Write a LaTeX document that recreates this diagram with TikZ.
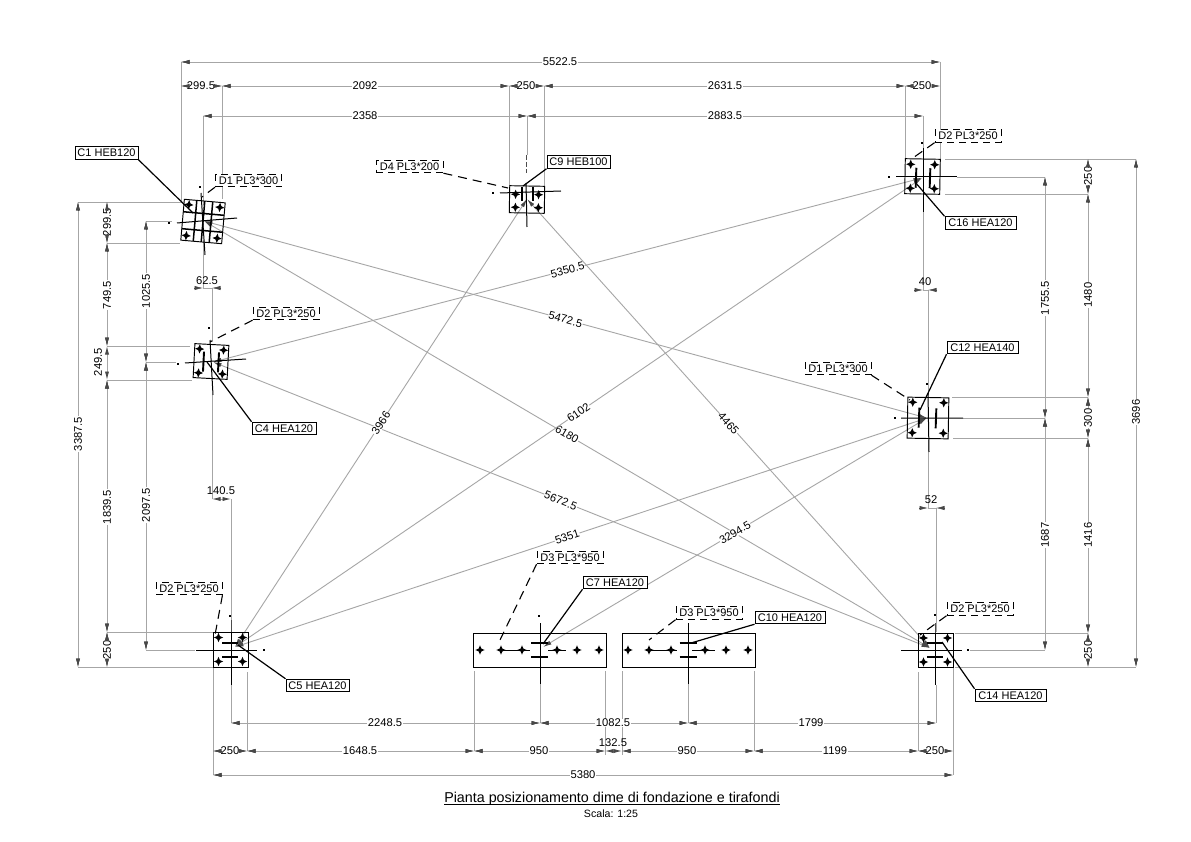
\documentclass[tikz,border=0pt]{standalone}
\usepackage{fontspec}
\setmainfont{Liberation Sans}
\usetikzlibrary{arrows.meta}
\definecolor{greyl}{HTML}{A6A6A6}
\definecolor{tipc}{HTML}{484848}
\newcounter{dn}
\tikzset{
  tipstyle/.tip={Latex[length=8.5pt,width=4.2pt,color=tipc]},
  dimln/.style={draw=greyl,line width=.9pt,{tipstyle}-{tipstyle}},
  stub/.style={draw=tipc,line width=.6pt,-{tipstyle},shorten >=0pt},
  extln/.style={draw=greyl,line width=.9pt},
  dimtxt/.style={fill=white,inner sep=.5pt,font=\fontsize{11.2}{12}\selectfont,text=black},
  cbox/.style={draw=black,line width=1pt,fill=white,inner sep=0pt,minimum height=12.5pt,font=\fontsize{11}{12}\selectfont},
  dbox/.style={draw=black,line width=.9pt,dash pattern=on 7pt off 5pt,fill=white,inner sep=0pt,minimum width=66pt,minimum height=12.5pt,font=\fontsize{11}{12}\selectfont},
  leader/.style={draw=black,line width=1.2pt},
  dleader/.style={draw=black,line width=1.1pt,dash pattern=on 9pt off 6pt},
  plateln/.style={draw=black,line width=.95pt},
  flange/.style={draw=black,line width=1.9pt},
  axisln/.style={draw=black,line width=1pt},
  thinaxis/.style={draw=black!70,line width=.6pt},
  grln/.style={draw=black,line width=1.5pt}
}
\newcommand{\hd}[5]{\draw[dimln] (#2,#1) -- (#3,#1);\stepcounter{dn}\node[dimtxt] (dim\thedn) at (#5,#1) {#4};
  \draw[stub] (#2+8.5,#1)--(#2,#1);\draw[stub] (#3-8.5,#1)--(#3,#1);}
\newcommand{\vd}[5]{\draw[dimln] (#1,#2) -- (#1,#3);\stepcounter{dn}\node[dimtxt,rotate=90] (dim\thedn) at (#1,#5) {#4};
  \draw[stub] (#1,#2+8.5)--(#1,#2);\draw[stub] (#1,#3-8.5)--(#1,#3);}
\newcommand{\astar}[2]{\fill[black] (#1-4.6,#2)--(#1-1.4,#2-1.4)--(#1,#2-4.6)--(#1+1.4,#2-1.4)--(#1+4.6,#2)--(#1+1.4,#2+1.4)--(#1,#2+4.6)--(#1-1.4,#2+1.4)--cycle;}
% plate: cx cy hw hh rot sx sy1 sy2
\newcommand{\plate}[8]{\begin{scope}[shift={(#1,#2)},rotate=#5]
  \draw[plateln] (-#3,-#4) rectangle (#3,#4);
  \astar{-#6}{#7}\astar{#6}{#7}\astar{-#6}{#8}\astar{#6}{#8}
\end{scope}}
% column with vertical flanges: cx cy dx halflen rot
\newcommand{\colV}[5]{\begin{scope}[shift={(#1,#2)},rotate=#5]
  \draw[flange] (-#3,-#4)--(-#3,#4) (#3,-#4)--(#3,#4);
\end{scope}}
% column with horizontal flanges: cx cy dy halflen
\newcommand{\colH}[4]{\draw[flange] (#1-#4,#2-#3)--(#1+#4,#2-#3) (#1-#4,#2+#3)--(#1+#4,#2+#3);}
\newcommand{\adot}[2]{\fill[black] (#1-.8,#2-.8) rectangle (#1+.8,#2+.8);}
\begin{document}
\begin{tikzpicture}[x=1pt,y=-1pt]
\useasboundingbox (0,0) rectangle (1191,842);
\fill[white] (0,0) rectangle (1191,842);
% column centres
\coordinate (C1) at (204,221);
\coordinate (C4) at (213,362);
\coordinate (C9) at (527,199);
\coordinate (C16) at (922,178);
\coordinate (C12) at (927,418);
\coordinate (C5) at (235,647);
\coordinate (C14) at (930,648);
\coordinate (C7) at (543,647);
% extension lines
\draw[extln]
 (181,62)--(181,203) (940,62)--(940,159)
 (222,86)--(222,199) (509,86)--(509,186) (544,86)--(544,186) (905,86)--(905,159)
 (203,116)--(203,205) (527,116)--(527,155) (923,116)--(923,150)
 (923,205)--(923,290) (928,290)--(928,395)
 (203,240)--(203,288) (212,288)--(212,340) (212,395)--(212,499) (231,499)--(231,632)
 (928,440)--(928,508) (936,508)--(936,632)
 (78,202)--(181,202) (107,243)--(180,243) (107,346)--(190,346) (107,380)--(192,380)
 (146,221)--(172,221) (146,362)--(176,362)
 (107,632)--(213,632) (78,667)--(213,667) (146,650)--(195,650)
 (945,159)--(1136,159) (945,194)--(1088,194) (957,177)--(1045,177)
 (952,397)--(1088,397) (953,438)--(1088,438) (963,418)--(1045,418)
 (955,633)--(1088,633) (955,667)--(1136,667) (970,650)--(1045,650)
 (213,667)--(213,775) (247,672)--(247,751) (231,685)--(231,723)
 (474,671)--(474,751) (605,671)--(605,755) (622,671)--(622,755) (754,671)--(754,751)
 (918,672)--(918,751) (953,667)--(953,775)
 (540,684)--(540,723) (688,684)--(688,723) (936,685)--(936,723);
% measured lines between columns
\draw[dimln] (C1)--(C12) node[pos=.5,sloped,dimtxt] (m1) {5472.5};
\draw[dimln] (C1)--(C14) node[pos=.5,sloped,dimtxt] (m2) {6180};
\draw[dimln] (C4)--(C16) node[pos=.5,sloped,dimtxt] (m3) {5350.5};
\draw[dimln] (C4)--(C14) node[pos=.485,sloped,dimtxt] (m4) {5672.5};
\draw[dimln] (C5)--(C9) node[pos=.5,sloped,dimtxt] (m5) {3966};
\draw[dimln] (C5)--(C16) node[pos=.5,sloped,dimtxt] (m6) {6102};
\draw[dimln] (C5)--(C12) node[pos=.48,sloped,dimtxt] (m7) {5351};
\draw[dimln] (C9)--(C14) node[pos=.5,sloped,dimtxt] (m8) {4465};
\draw[dimln] (C7)--(C12) node[pos=.5,sloped,dimtxt] (m9) {3294.5};
% top
\hd{62}{181}{940}{5522.5}{560}
\hd{86}{181}{222}{299.5}{201}
\hd{86}{222}{509}{2092}{365}
\hd{86}{509}{544}{250}{526}
\hd{86}{544}{905}{2631.5}{725}
\hd{86}{905}{940}{250}{922}
\hd{116}{203}{527}{2358}{365}
\hd{116}{527}{923}{2883.5}{725}
% left
\vd{78}{202}{667}{3387.5}{434}
\vd{107}{202}{243}{299.5}{222}
\vd{107}{243}{346}{749.5}{295}
\draw[dimln] (107,346)--(107,380);
\node[dimtxt,rotate=90,fill=none] (lab2495) at (98,362) {249.5};
\vd{107}{380}{632}{1839.5}{507}
\vd{107}{632}{667}{250}{650}
\vd{146}{221}{362}{1025.5}{291}
\vd{146}{362}{650}{2097.5}{505}
% right
\vd{1136}{159}{667}{3696}{412}
\vd{1088}{159}{194}{250}{176}
\vd{1088}{194}{397}{1480}{295}
\vd{1088}{397}{438}{300}{418}
\vd{1088}{438}{633}{1416}{535}
\vd{1088}{633}{667}{250}{650}
\vd{1045}{177}{418}{1755.5}{298}
\vd{1045}{418}{650}{1687}{535}
% bottom
\hd{723}{231}{540}{2248.5}{385}
\hd{723}{540}{688}{1082.5}{613}
\hd{723}{688}{936}{1799}{811}
\hd{751}{213}{247}{250}{230}
\hd{751}{247}{474}{1648.5}{360}
\hd{751}{474}{605}{950}{539}
\draw[dimln] (605,751)--(622,751);
\node[dimtxt,fill=none] (lab1325) at (613,743) {132.5};
\hd{751}{622}{754}{950}{687}
\hd{751}{754}{918}{1199}{835}
\hd{751}{918}{953}{250}{935}
\hd{775}{213}{953}{5380}{583}
% small outside dimensions
\draw[stub] (194,288)--(203,288);
\draw[stub] (221,288)--(212,288);
\draw[extln] (203,288)--(212,288);
\node[dimtxt,fill=none] (lab625) at (207,281) {62.5};
\draw[stub] (914,290)--(923,290);
\draw[stub] (937,290)--(928,290);
\draw[extln] (923,290)--(928,290);
\node[dimtxt,fill=none] (lab40) at (925,282) {40};
\draw[stub] (919,508)--(928,508);
\draw[stub] (945,508)--(936,508);
\draw[extln] (928,508)--(936,508);
\node[dimtxt,fill=none] (lab52) at (931,500) {52};
\draw[dimln] (212,499)--(231,499);
\node[dimtxt,fill=none] (lab1405) at (221,491) {140.5};
% plates
\plate{203}{221.5}{20.5}{20.5}{-5}{15.5}{-15.5}{15.5}
\begin{scope}[shift={(203,221.5)},rotate=-5]
 \draw[grln] (-8,-20.5)--(-8,20.5) (0,-20.5)--(0,20.5) (8,-20.5)--(8,20.5)
  (-20.5,-8)--(20.5,-8) (-20.5,9)--(20.5,9);
\end{scope}
\plate{211}{361.5}{17}{17}{-3}{12}{-12}{12}
\colV{211}{362}{7.5}{10}{-3}
\plate{527}{199.5}{17.5}{13.5}{-1}{11.5}{-5}{8}
\colV{527.5}{194}{5.5}{7}{0}
\plate{922.5}{176.5}{17.5}{17.5}{-1}{12}{-12}{12}
\colV{923}{178}{7}{10}{-2}
\plate{928}{418}{20.5}{20.5}{-1}{15.5}{-15.5}{15}
\colV{927.5}{418}{8.5}{10}{-2}
\plate{230.5}{649.5}{17.5}{17.5}{0}{12}{-12}{12}
\colH{230}{650}{7}{8}
\plate{935.5}{650}{17.5}{17}{0}{12}{-12}{12}
\colH{935}{650}{7}{8}
% long plates
\draw[plateln] (473,633) rectangle (606,667);
\foreach \sx in {480,501,522,557,577,599} {\astar{\sx}{650}}
\colH{539.5}{650}{7}{8.5}
\draw[plateln] (622,633) rectangle (755,667);
\foreach \sx in {628,649,671,705,726,748} {\astar{\sx}{650}}
\colH{688}{650}{7}{8.5}
% axes
\draw[axisln] (177,223)--(237,218) (201,193)--(205,255);
\adot{169}{223}\adot{200}{187}
\draw[axisln] (185,363)--(246,359) (210,340)--(213,395);
\adot{178}{364}\adot{209}{328}
\draw[axisln] (500,193)--(561,191) (526,183)--(527,227);
\draw[thinaxis,dash pattern=on 5pt off 2pt] (526,155)--(526,173);
\adot{493}{193}
\draw[axisln] (896,177)--(957,177) (923,148)--(923,212);
\adot{889}{177}\adot{922}{143}
\draw[axisln] (901,418)--(963,418) (928,393)--(929,452);
\adot{895}{418}\adot{927}{384}
\draw[axisln] (196,650)--(257,650) (231,632)--(231,685);
\draw[thinaxis] (231,620)--(231,632);
\adot{264}{650}\adot{230}{616}
\draw[axisln] (901,650)--(962,650) (935,633)--(935,685);
\draw[thinaxis] (935,623)--(935,633);
\adot{968}{650}\adot{935}{615}
\draw[axisln] (540,623)--(540,684) (502,650)--(530,650) (548,650)--(566,650);
\adot{539}{616}
\draw[axisln] (688,623)--(688,684) (650,650)--(677,650) (692,650)--(715,650);
% labels of columns
\node[cbox,minimum width=63pt] (LC1) at (106.5,153) {C1 HEB120};
\node[cbox,minimum width=63pt] (LC9) at (578.5,162) {C9 HEB100};
\node[cbox,minimum width=71pt] (LC16) at (980.5,223) {C16 HEA120};
\node[cbox,minimum width=64pt] (LC4) at (284,428.5) {C4 HEA120};
\node[cbox,minimum width=71pt] (LC12) at (982.5,347.5) {C12 HEA140};
\node[cbox,minimum width=63pt] (LC5) at (317.5,685.5) {C5 HEA120};
\node[cbox,minimum width=64pt] (LC7) at (615,582.5) {C7 HEA120};
\node[cbox,minimum width=70pt] (LC10) at (790,617.5) {C10 HEA120};
\node[cbox,minimum width=71pt] (LC14) at (1010.5,695.5) {C14 HEA120};
\coordinate (e1) at (193,213);
\coordinate (e9) at (523,186);
\coordinate (e16) at (915,182);
\coordinate (e4) at (207,362);
\coordinate (e12) at (920,410);
\coordinate (e5) at (238,645);
\coordinate (e7) at (543,644);
\coordinate (e10) at (691,643);
\coordinate (e14) at (942,642);
\draw[leader] (LC1.south east)--(e1);
\draw[leader] (LC9.south west)--(e9);
\draw[leader] (LC16.north west)--(e16);
\draw[leader] (LC4.north west)--(e4);
\draw[leader] (LC12.south west)--(e12);
\draw[leader] (LC5.north west)--(e5);
\draw[leader] (LC7.south west)--(e7);
\draw[leader] (LC10.south west)--(e10);
\draw[leader] (LC14.north west)--(e14);
% plate marks
\node[dbox] (DA) at (248.5,180.5) {D1 PL3*300};
\node[dbox] (DB) at (286,313.5) {D2 PL3*250};
\node[dbox,minimum width=67pt] (DC) at (409.5,166.5) {D4 PL3*200};
\node[dbox] (DD) at (968,136) {D2 PL3*250};
\node[dbox] (DE) at (838,368.5) {D1 PL3*300};
\node[dbox] (DF) at (189,588.5) {D2 PL3*250};
\node[dbox] (DG) at (570,557.5) {D3 PL3*950};
\node[dbox] (DH) at (709,613) {D3 PL3*950};
\node[dbox] (DI) at (980,609) {D2 PL3*250};
\coordinate (fa) at (202,197);
\coordinate (fb) at (210,342);
\coordinate (fc) at (508,188);
\coordinate (fd) at (910,160);
\coordinate (fe) at (910,400);
\coordinate (ff) at (215,635);
\coordinate (fg) at (500,640);
\coordinate (fh) at (649,640);
\coordinate (fi) at (920,635);
\draw[dleader] (DA.south west)--(fa);
\draw[dleader] (DB.south west)--(fb);
\draw[dleader] (DC.south east)--(fc);
\draw[dleader] (DD.south west)--(fd);
\draw[dleader] (DE.south east)--(fe);
\draw[dleader] (DF.south east)--(ff);
\draw[dleader] (DG.south west)--(fg);
\draw[dleader] (DH.south west)--(fh);
\draw[dleader] (DI.south west)--(fi);
% title
\node[inner sep=0pt,font=\fontsize{14.3}{15}\selectfont] (title) at (612,798.5) {Pianta posizionamento dime di fondazione e tirafondi};
\draw[black,line width=.9pt] (title.base west)++(0,2.2) -- ++(336,0);
\node[inner sep=0pt,font=\fontsize{10.6}{12}\selectfont] (scale) at (611,814) {Scala: 1:25};
\end{tikzpicture}
\end{document}
